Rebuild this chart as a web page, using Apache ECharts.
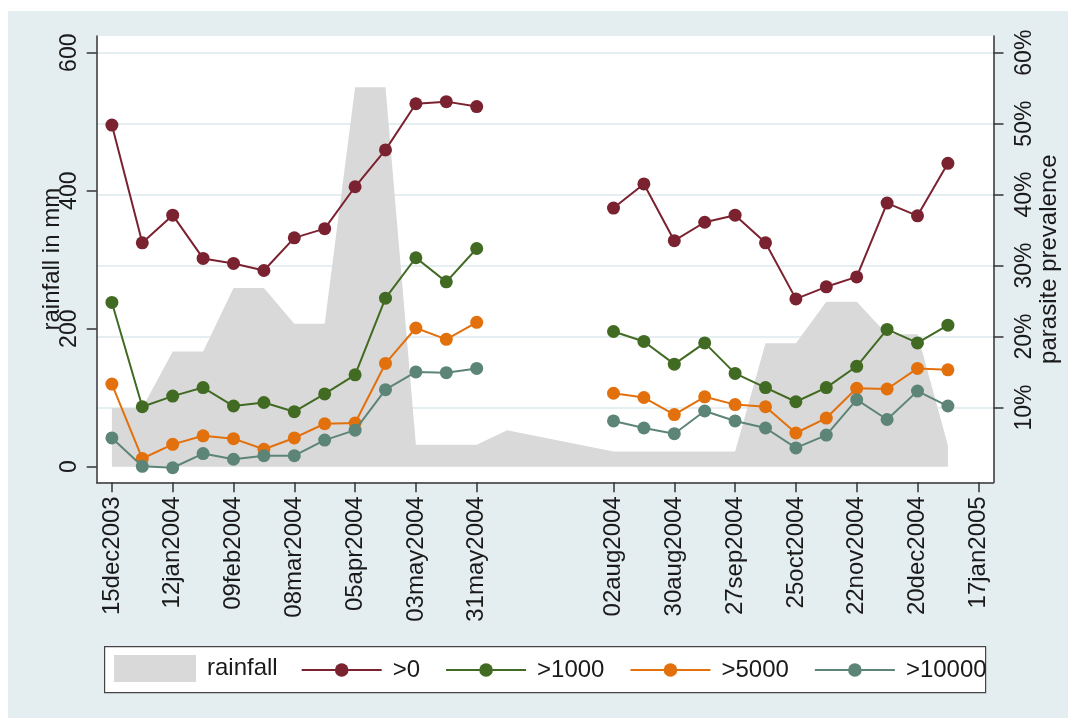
<!DOCTYPE html>
<html>
<head>
<meta charset="utf-8">
<script src="https://cdn.jsdelivr.net/npm/echarts@6.0.0/dist/echarts.min.js"></script>
<style>
  html, body { margin: 0; padding: 0; background: #ffffff; }
  #bg { position: absolute; left: 8px; top: 11px; width: 1060px; height: 707px; background: #e4edf0; }
  #chart { position: absolute; left: 0; top: 0; width: 1068px; height: 718px; }
</style>
</head>
<body>
<div id="bg"></div>
<div id="chart"></div>
<script>
// ---- data ----
// survey dates (biweekly); null entry marks the gap in sampling
const surveyDates = ['2003-12-15','2003-12-29','2004-01-12','2004-01-26','2004-02-09','2004-02-23',
  '2004-03-08','2004-03-22','2004-04-05','2004-04-19','2004-05-03','2004-05-17','2004-05-31',
  '2004-07-01',
  '2004-08-02','2004-08-16','2004-08-30','2004-09-13','2004-09-27','2004-10-11','2004-10-25',
  '2004-11-08','2004-11-22','2004-12-06','2004-12-20','2005-01-03'];
// parasite prevalence (%), by parasite density threshold
const prevGt0     = [49.8,33.2,37.1,31.0,30.3,29.3,33.9,35.2,41.1,46.3,52.8,53.1,52.4, null,
  38.1,41.5,33.5,36.1,37.1,33.2,25.3,27.0,28.4,38.8,37.0,44.4];
const prevGt1000  = [24.8,10.1,11.6,12.8,10.2,10.7,9.4,11.9,14.6,25.4,31.1,27.7,32.4, null,
  20.7,19.3,16.1,19.1,14.8,12.8,10.8,12.8,15.8,21.0,19.1,21.6];
const prevGt5000  = [13.3,2.8,4.8,6.0,5.6,4.1,5.7,7.7,7.8,16.2,21.2,19.6,22.0, null,
  12.0,11.4,9.0,11.5,10.4,10.1,6.4,8.5,12.7,12.6,15.5,15.3];
const prevGt10000 = [5.7,1.7,1.5,3.5,2.7,3.2,3.2,5.4,6.8,12.5,15.0,14.9,15.5, null,
  8.1,7.1,6.3,9.5,8.1,7.1,4.3,6.1,11.1,8.3,12.3,10.2];

// rainfall (mm)
const rainDates = ['2003-12-15','2003-12-29','2004-01-12','2004-01-26','2004-02-09','2004-02-23',
  '2004-03-08','2004-03-22','2004-04-05','2004-04-19','2004-05-03','2004-05-17','2004-05-31',
  '2004-06-14','2004-08-02','2004-08-16','2004-08-30','2004-09-13','2004-09-27','2004-10-11',
  '2004-10-25','2004-11-08','2004-11-22','2004-12-06','2004-12-20','2005-01-03'];
const rainfall = [85,85,167,167,259,259,207,207,550,550,32,32,32,53,22,22,22,22,22,179,179,239,239,192,192,31];

// axis ticks
const xTicks = ['2003-12-15','2004-01-12','2004-02-09','2004-03-08','2004-04-05','2004-05-03','2004-05-31',
  '2004-08-02','2004-08-30','2004-09-27','2004-10-25','2004-11-22','2004-12-20','2005-01-17'];
const leftTicks = [0, 200, 400, 600];
const rightTicks = [10, 20, 30, 40, 50, 60];

const seriesNames = ['>0', '>1000', '>5000', '>10000'];
const seriesColors = ['#7b2230', '#416a22', '#e2700c', '#5d8577'];
const seriesValues = [prevGt0, prevGt1000, prevGt5000, prevGt10000];

// ---- helpers: dates as day numbers (UTC days since 1970-01-01) ----
const dayNum = s => Date.UTC(+s.slice(0,4), +s.slice(5,7) - 1, +s.slice(8,10)) / 86400000;
const months = ['jan','feb','mar','apr','may','jun','jul','aug','sep','oct','nov','dec'];
const fmtDate = v => { const d = new Date(Math.round(v) * 86400000); return String(d.getUTCDate()).padStart(2,'0') + months[d.getUTCMonth()] + d.getUTCFullYear(); };

const FONT = 'Liberation Sans, Arial, sans-serif';
const AX = '#333333';

const chart = echarts.init(document.getElementById('chart'), null, { renderer: 'canvas' });

const lineSeries = seriesNames.map((n, k) => ({
  name: n,
  type: 'line',
  yAxisIndex: 1,
  data: surveyDates.map((d, i) => [dayNum(d), seriesValues[k][i]]),
  connectNulls: false,
  symbol: 'circle',
  symbolSize: 13,
  lineStyle: { color: seriesColors[k], width: 2 },
  itemStyle: { color: seriesColors[k] },
  z: 3 + k
}));

chart.setOption({
  backgroundColor: 'transparent',
  animation: false,
  textStyle: { fontFamily: FONT },
  grid: { left: 96.7, right: 74.5, top: 36, bottom: 235.7, backgroundColor: '#ffffff', show: true, borderWidth: 0, containLabel: false, outerBoundsMode: 'none' },
  graphic: [{
    type: 'rect', left: 104, top: 646, z: -1,
    shape: { width: 881, height: 46 },
    style: { fill: '#ffffff', stroke: '#444444', lineWidth: 1.2 }
  }],
  legend: [{
    data: ['rainfall'],
    left: 109, top: 650,
    itemWidth: 82, itemHeight: 27,
    icon: 'rect',
    textStyle: { fontSize: 24, color: '#1a1a1a', fontFamily: FONT, padding: [0, 0, 0, 6] }
  }, {
    data: seriesNames,
    left: 295.7, top: 653,
    itemWidth: 80, itemHeight: 17,
    itemGap: 25,
    textStyle: { fontSize: 24, color: '#1a1a1a', fontFamily: FONT, padding: [0, 0, 0, 6] }
  }],
  xAxis: {
    type: 'value',
    min: dayNum('2003-12-08'),
    max: dayNum('2005-01-24'),
    axisLine: { show: true, onZero: false, lineStyle: { color: AX, width: 1.5 } },
    axisTick: { show: true, length: 10, lineStyle: { color: AX, width: 1.5 }, customValues: xTicks.map(dayNum) },
    axisLabel: { rotate: 90, fontSize: 24, color: '#1a1a1a', margin: 14, fontFamily: FONT,
      customValues: xTicks.map(dayNum), formatter: v => fmtDate(v), hideOverlap: false },
    splitLine: { show: false }
  },
  yAxis: [{
    type: 'value',
    position: 'left',
    min: -22.6, max: 624.2,
    name: 'rainfall in mm',
    nameLocation: 'middle',
    nameGap: 32,
    nameRotate: 90,
    nameMoveOverlap: false,
    nameTextStyle: { fontSize: 24, color: '#1a1a1a', fontFamily: FONT },
    axisLine: { show: true, lineStyle: { color: AX, width: 1.5 } },
    axisTick: { show: true, length: 10, lineStyle: { color: AX, width: 1.5 }, customValues: leftTicks },
    axisLabel: { rotate: 90, fontSize: 23, color: '#1a1a1a', margin: 16, fontFamily: FONT, customValues: leftTicks },
    splitLine: { show: false }
  }, {
    type: 'value',
    position: 'right',
    min: -0.55, max: 62.35,
    name: 'parasite prevalence',
    nameLocation: 'middle',
    nameGap: 44,
    nameRotate: 90,
    nameMoveOverlap: false,
    nameTextStyle: { fontSize: 24, color: '#1a1a1a', fontFamily: FONT },
    axisLine: { show: true, lineStyle: { color: AX, width: 1.5 } },
    axisTick: { show: true, length: 10, lineStyle: { color: AX, width: 1.5 }, customValues: rightTicks },
    axisLabel: { rotate: 90, fontSize: 23, color: '#1a1a1a', margin: 20, fontFamily: FONT,
      customValues: rightTicks, formatter: '{value}%' },
    splitLine: { show: true, lineStyle: { color: '#dce8ed', width: 1.5 } }
  }],
  series: [{
    name: 'rainfall',
    type: 'line',
    yAxisIndex: 0,
    data: rainDates.map((d, i) => [dayNum(d), rainfall[i]]),
    symbol: 'none',
    lineStyle: { width: 0, color: '#d9d9d9' },
    itemStyle: { color: '#d9d9d9' },
    areaStyle: { color: '#d9d9d9', opacity: 1, origin: 0 },
    z: 1
  }].concat(lineSeries)
});
</script>
</body>
</html>
